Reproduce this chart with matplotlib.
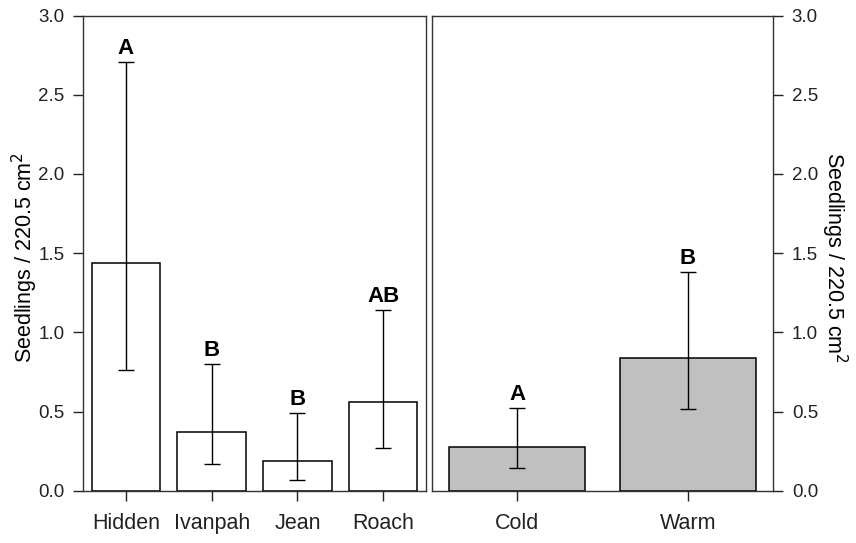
import numpy as np
import matplotlib
matplotlib.use("Agg")
import matplotlib.pyplot as plt

plt.rcParams['font.family'] = ['Liberation Sans', 'DejaVu Sans']

# site panel
sites = ["Hidden", "Ivanpah", "Jean", "Roach"]
site_mean = [1.44, 0.37, 0.19, 0.56]
site_upper = [2.71, 0.80, 0.49, 1.14]
site_lower = [0.76, 0.17, 0.07, 0.27]
site_letters = ["A", "B", "B", "AB"]

# temperature panel
temps = ["Cold", "Warm"]
temp_mean = [0.275, 0.84]
temp_upper = [0.525, 1.38]
temp_lower = [0.145, 0.515]
temp_letters = ["A", "B"]

ylab = "Seedlings / 220.5 cm$^2$"
yticks = [0.0, 0.5, 1.0, 1.5, 2.0, 2.5, 3.0]

fig = plt.figure(figsize=(8.56, 5.43), dpi=100)
ax1 = fig.add_axes([0.097, 0.0963, 0.4007, 0.875])
ax2 = fig.add_axes([0.5047, 0.0963, 0.3984, 0.875])


def panel(ax, names, mean, upper, lower, letters, face):
	x = np.arange(len(names))
	mean = np.array(mean)
	err = [mean - np.array(lower), np.array(upper) - mean]
	ax.bar(x, mean, width=0.8, color=face, edgecolor="black", linewidth=1.1, zorder=2)
	ax.errorbar(x, mean, yerr=err, fmt="none", ecolor="black", elinewidth=1.0,
		capsize=5.5, capthick=1.0, zorder=3)
	for xi, u, lab in zip(x, upper, letters):
		ax.annotate(lab, (xi, u), xytext=(0, 2.0), textcoords="offset points",
			ha="center", va="bottom", fontsize=16, fontweight="bold")
	ax.set_xlim(-0.5, len(names) - 0.5)
	ax.set_ylim(0, 3.0)
	ax.set_xticks(x)
	ax.set_xticklabels(names, fontsize=15.5)
	ax.set_yticks(yticks)
	ax.set_yticklabels(["%.1f" % t for t in yticks], fontsize=13.5)
	ax.tick_params(direction="out", length=7, width=1.0, colors="#222222")
	ax.tick_params(axis="y", pad=6.5)
	ax.tick_params(axis="x", pad=9)
	for s in ax.spines.values():
		s.set_linewidth(1.0)
		s.set_color("#333333")


panel(ax1, sites, site_mean, site_upper, site_lower, site_letters, "white")
ax1.set_ylabel(ylab, fontsize=15.5)
ax1.yaxis.set_label_coords(-0.125, 0.49)

panel(ax2, temps, temp_mean, temp_upper, temp_lower, temp_letters, "#c0c0c0")
ax2.yaxis.tick_right()
ax2.yaxis.set_label_position("right")
ax2.set_ylabel(ylab, fontsize=15.5, rotation=270, va="bottom")
ax2.yaxis.set_label_coords(1.135, 0.49)

fig.savefig("out.png", dpi=100)
